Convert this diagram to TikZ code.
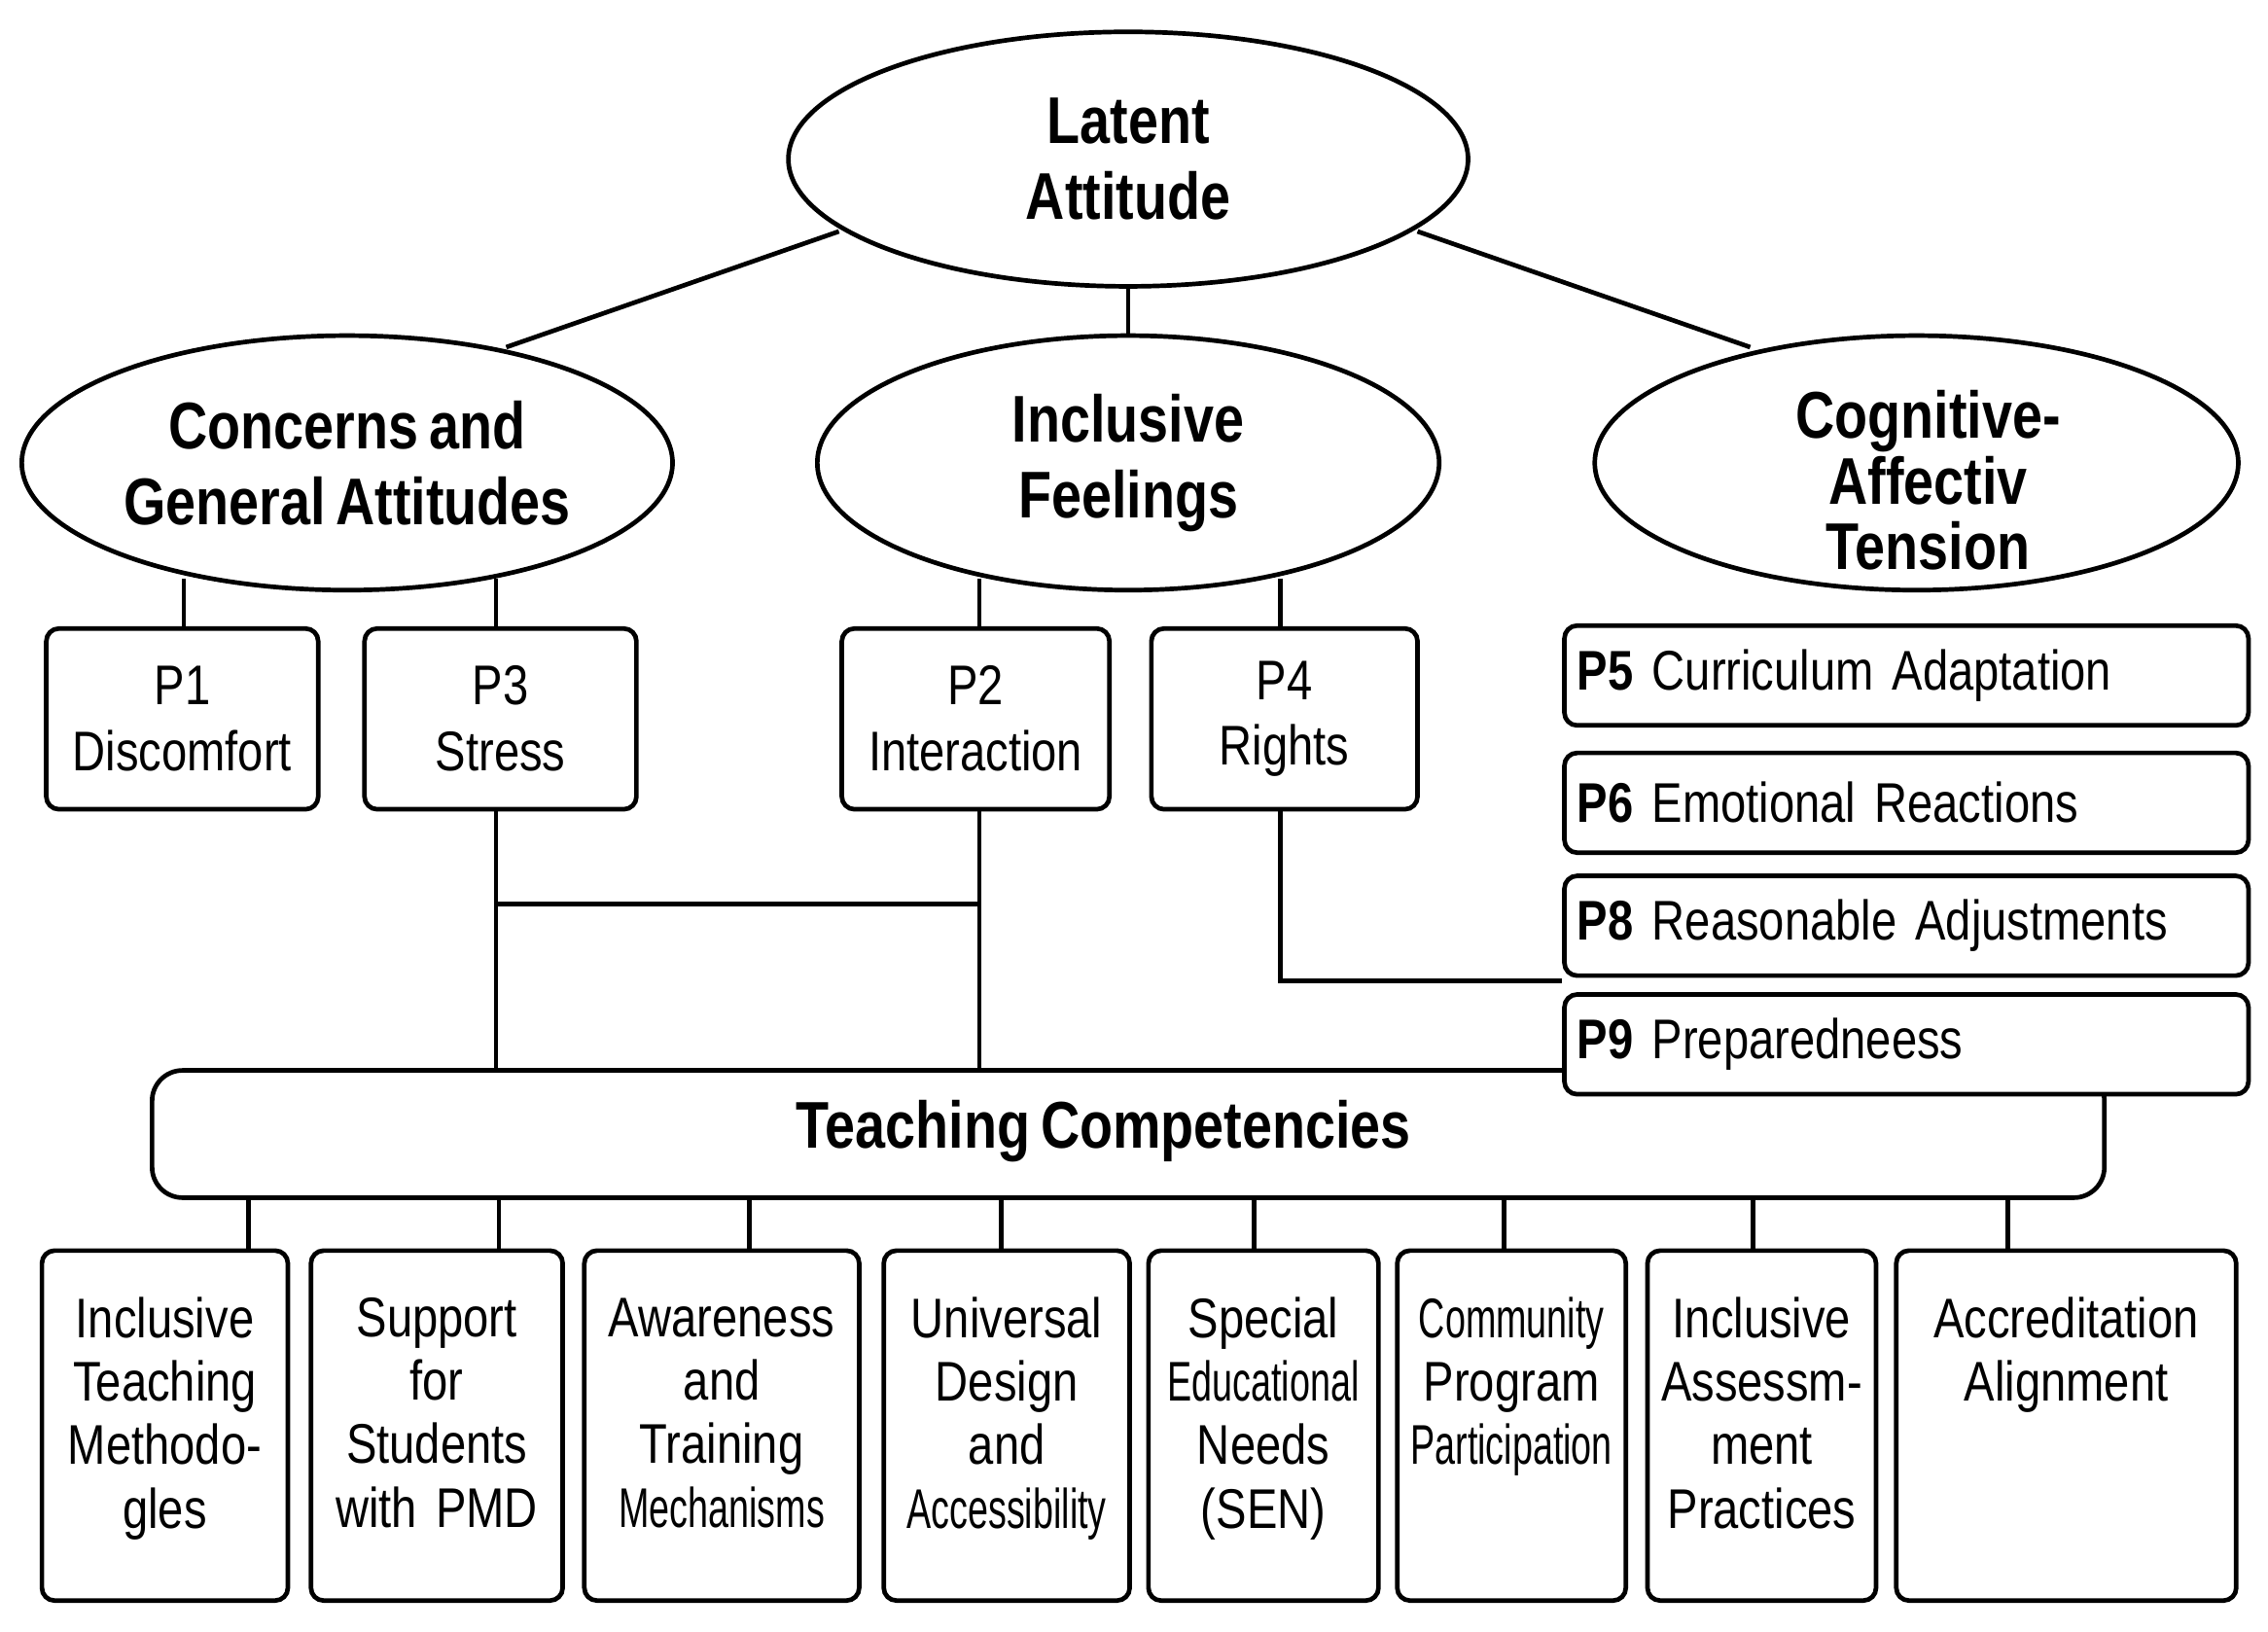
\documentclass[tikz,border=0pt]{standalone}
\usepackage{fontspec}
\setmainfont{Liberation Sans}[FakeStretch=0.82,WordSpace=0.7]
\usetikzlibrary{shapes.geometric}
\newcommand{\nw}[1]{\scalebox{0.8}[1]{#1}}
\begin{document}
\begin{tikzpicture}[x=0.02cm,y=-0.02cm,line width=1.8pt,
 ell/.style={draw,ellipse,minimum width=#1,align=center,font=\fontsize{26}{30}\selectfont\bfseries,inner sep=0pt},
 pbox/.style={draw,rounded corners=5pt,fill=white,align=center,font=\fontsize{22}{26}\selectfont},
 wbox/.style={draw,rounded corners=5pt,fill=white,anchor=west,minimum width=9.46cm,minimum height=1.38cm,font=\fontsize{22}{26}\selectfont,align=left,text width=9.1cm},
 bbox/.style={draw,rounded corners=5pt,fill=white,anchor=north,minimum height=4.84cm,align=center,font=\fontsize{22}{25}\selectfont,text depth=3.0cm,inner sep=2pt}]
\useasboundingbox (0,0) rectangle (1568,1128);
\node[ell=9.4cm,minimum height=3.52cm] (la) at (780,110) {Latent\\Attitude};
\node[ell=9cm,minimum height=3.52cm] (cg) at (240,320) {Concerns and\\General Attitudes};
\node[ell=8.6cm,minimum height=3.52cm] (if) at (780,320) {Inclusive\\Feelings};
\node[ell=8.9cm,minimum height=3.52cm] (ca) at (1325,320) {};
\draw (580,160) -- (350,240);
\draw (780,200) -- (780,233);
\draw (980,160) -- (1210,240);
\foreach \x/\n/\t/\a/\b in {127/p1/P1\\Discomfort/32/220, 343/p3/P3\\Stress/252/440, 677/p2/P2\\Interaction/582/767, 885/p4/P4\\Rights/796/980}{
 \draw (\x,400) -- (\x,435);
 \node[pbox,minimum width={(\b-\a)*0.02cm},minimum height=2.5cm] (\n) at ({(\a+\b)/2},497) {\t};
}
\node[draw,rounded corners=12pt,minimum width=27cm,minimum height=1.76cm] (tc) at (780,784) {};
\node[font=\fontsize{26}{30}\selectfont\bfseries] at (763,782) {Teaching Competencies};
\draw (343,560) -- (343,740);
\draw (677,560) -- (677,740);
\draw (343,625) -- (677,625);
\node[wbox] (p5) at (1080,467) {\textbf{P5} Curriculum Adaptation};
\node[wbox] (p6) at (1080,555) {\textbf{P6} Emotional Reactions};
\node[wbox] (p8) at (1080,640) {\textbf{P8} Reasonable Adjustments};
\draw (885,560) |- (1080,678);
\node[wbox] (p9) at (1080,722) {\textbf{P9} Preparedneess};
\node[align=center,font=\fontsize{26}{26}\selectfont\bfseries] at (1333,332) {Cognitive-\\Affectiv\\Tension};
\foreach \x/\a/\b/\t in {172/30/198/Inclusive\\Teaching\\Methodo-\\gles, 345/216/388/Support\\for\\Students\\with PMD, 518/405/593/Awareness\\and\\Training\\\nw{Mechanisms}, 692/612/780/Universal\\Design\\and\\\nw{Accessibility}, 867/795/952/Special\\\nw{Educational}\\Needs\\(SEN), 1040/967/1123/\nw{Community}\\Program\\\nw{Participation}, 1212/1140/1296/Inclusive\\Assessm-\\ment\\Practices, 1388/1312/1545/Accreditation\\Alignment}{
 \draw (\x,828) -- (\x,863);
 \node[bbox,minimum width={(\b-\a)*0.02cm},text width={(\b-\a)*0.02cm-0.1cm}] at ({(\a+\b)/2},863) {\t};
}
\end{tikzpicture}
\end{document}
